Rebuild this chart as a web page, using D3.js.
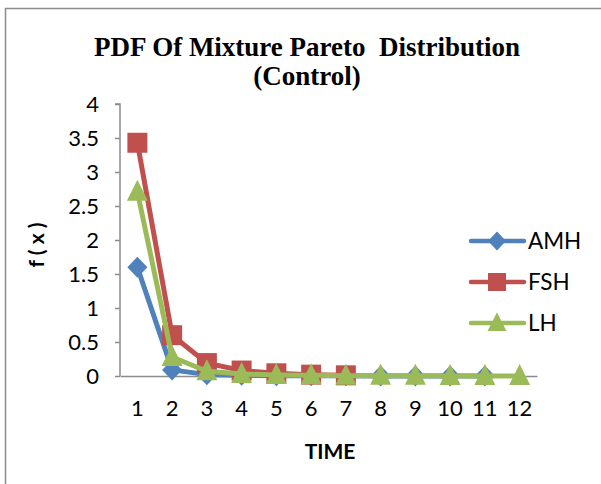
<!DOCTYPE html>
<html>
<head>
<meta charset="utf-8">
<script src="https://cdn.jsdelivr.net/npm/d3@7"></script>
<style>
  html, body { margin: 0; padding: 0; background: #fff; }
  svg { display: block; }
</style>
</head>
<body>
<svg id="chart" width="601" height="484"></svg>
<script>
// Time points (category axis)
const times = ["1","2","3","4","5","6","7","8","9","10","11","12"];
// Density values per hormone
const amh = [1.6, 0.09, 0.02, 0.01, 0.005, 0.003, 0.002, 0.001, 0.001, 0.0, 0.0];
const fsh = [3.43, 0.6, 0.19, 0.08, 0.04, 0.02, 0.01];
const lh  = [2.71, 0.28, 0.07, 0.03, 0.015, 0.01, 0.005, 0.003, 0.002, 0.001, 0.001, 0.0];
const yTicks = [0, 0.5, 1, 1.5, 2, 2.5, 3, 3.5, 4];
const seriesNames = ["AMH", "FSH", "LH"];

const series = [
  { name: seriesNames[0], values: amh, color: "#4F81BD", shape: "diamond" },
  { name: seriesNames[1], values: fsh, color: "#C0504D", shape: "square" },
  { name: seriesNames[2], values: lh,  color: "#9BBB59", shape: "triangle" }
];

const svg = d3.select("#chart");
const font = "Lato, 'Open Sans', 'Liberation Sans', sans-serif";

// Outer frame
svg.append("rect")
  .attr("x", 5.5).attr("y", 8.5)
  .attr("width", 700).attr("height", 600)
  .attr("fill", "none").attr("stroke", "#8c8c8c").attr("stroke-width", 1.5);

const plot = { left: 120, right: 537, top: 104, bottom: 376 };

const x = d3.scaleBand().domain(times).range([plot.left, plot.right]);
const y = d3.scaleLinear().domain([0, 4]).range([plot.bottom, plot.top]);

// Title
const title = svg.append("text")
  .attr("text-anchor", "middle")
  .attr("font-family", "'Liberation Serif', 'Times New Roman', serif")
  .attr("font-weight", "bold").attr("font-size", 27);
title.append("tspan").attr("x", 307).attr("y", 56).text("PDF Of Mixture Pareto\u00a0 Distribution");
title.append("tspan").attr("x", 307).attr("y", 85).text("(Control)");

// Y axis
const yAxis = d3.axisLeft(y).tickValues(yTicks).tickSize(5).tickPadding(16)
  .tickFormat(d => String(d));
const gy = svg.append("g").attr("transform", `translate(${plot.left},0)`).call(yAxis);
gy.select(".domain").attr("stroke", "#8c8c8c").attr("stroke-width", 1.5)
  .attr("d", `M-5,${plot.top}H0V${plot.bottom}`);
gy.selectAll(".tick line").attr("stroke", "#8c8c8c").attr("stroke-width", 1.5);
gy.selectAll(".tick text").attr("font-family", font).attr("font-size", 22).attr("fill", "#000");

// X axis
const xAxis = d3.axisBottom(x).tickSize(0).tickPadding(24);
const gx = svg.append("g").attr("transform", `translate(0,${plot.bottom})`).call(xAxis);
gx.select(".domain").attr("stroke", "#8c8c8c").attr("stroke-width", 1.5);
gx.selectAll(".tick text").attr("font-family", font).attr("font-size", 22).attr("fill", "#000");

// Axis titles
svg.append("text")
  .attr("x", 330).attr("y", 459).attr("text-anchor", "middle")
  .attr("font-family", font).attr("font-weight", "bold").attr("font-size", 21)
  .text("TIME");
svg.append("text")
  .attr("transform", "translate(44,245) rotate(-90)").attr("text-anchor", "middle")
  .attr("font-family", font).attr("font-weight", "bold").attr("font-size", 21)
  .text("f ( x )");

// Marker shapes
function markerPath(shape) {
  if (shape === "diamond") return "M0,-10.5L10,0L0,10.5L-10,0Z";
  if (shape === "square") return "M-10,-10H10V10H-10Z";
  return "M0,-12L10.5,9H-10.5Z";
}

const cx = i => x(times[i]) + x.bandwidth() / 2;
const line = d3.line().x((d, i) => cx(i)).y(d => y(d));

series.forEach(s => {
  const g = svg.append("g");
  g.append("path")
    .attr("d", line(s.values))
    .attr("fill", "none").attr("stroke", s.color)
    .attr("stroke-width", 5).attr("stroke-linejoin", "round").attr("stroke-linecap", "round");
  g.selectAll("path.m").data(s.values).enter().append("path")
    .attr("class", "m")
    .attr("transform", (d, i) => `translate(${cx(i)},${y(d)})`)
    .attr("d", markerPath(s.shape))
    .attr("fill", s.color);
});

// Legend
const legendY = [241, 282, 323];
series.forEach((s, i) => {
  const g = svg.append("g").attr("transform", `translate(0,${legendY[i]})`);
  g.append("line").attr("x1", 471).attr("x2", 524).attr("y1", 0).attr("y2", 0)
    .attr("stroke", s.color).attr("stroke-width", 4.5).attr("stroke-linecap", "round");
  g.append("path").attr("transform", "translate(497,0) scale(0.9)").attr("d", markerPath(s.shape)).attr("fill", s.color);
  g.append("text").attr("x", 528).attr("y", 8)
    .attr("font-family", font).attr("font-size", 22.5).attr("fill", "#000")
    .text(s.name);
});
</script>
</body>
</html>
